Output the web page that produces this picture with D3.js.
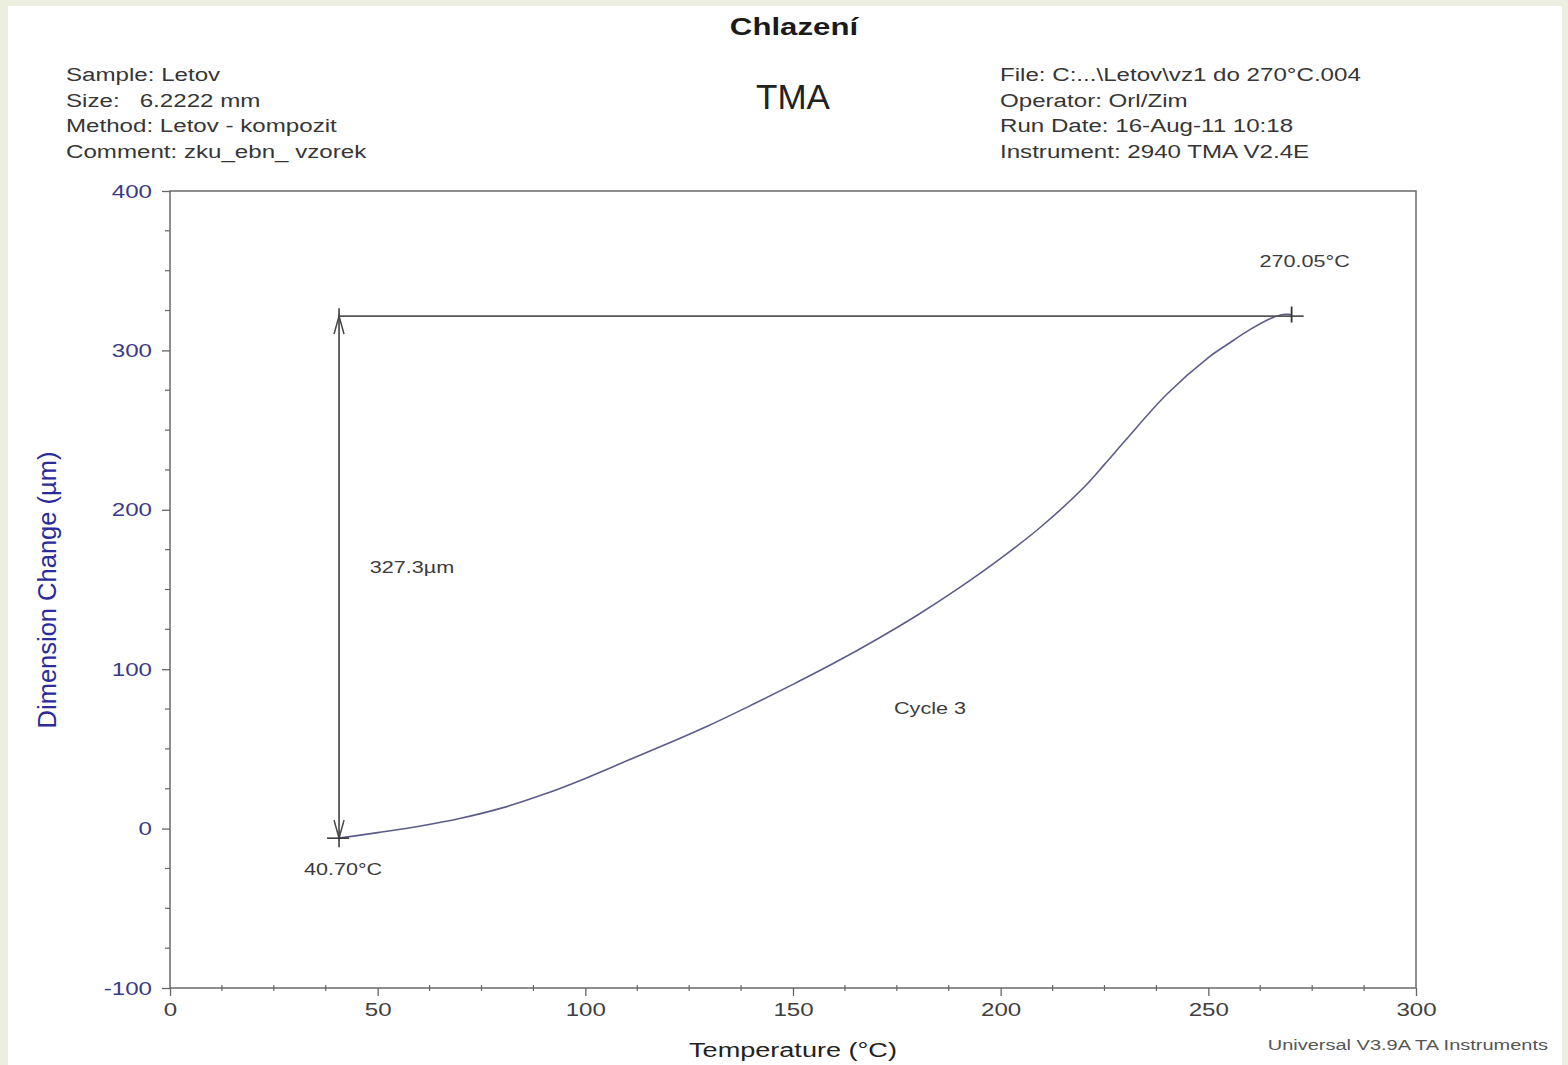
<!DOCTYPE html>
<html>
<head>
<meta charset="utf-8">
<script src="https://cdn.jsdelivr.net/npm/d3@7"></script>
<style>
  body { margin: 0; background: #eceedf; }
  #vis { width: 1568px; height: 1065px; }
  text { font-family: "Liberation Sans", Arial, sans-serif; }
</style>
</head>
<body>
<div id="vis"></div>
<script>
// data (Cycle 3)
let temps = [40.7, 50, 60, 70, 80, 90, 100, 110, 120, 130, 140, 150, 160, 170, 180, 190, 200, 210, 220, 225, 230, 240, 250, 255, 260, 265, 268, 270.05];
let dims = [-6, -2.5, 1.5, 6.5, 13, 21.5, 31.5, 42.5, 53.5, 65, 77.5, 90.5, 104, 118.5, 134, 151, 169.5, 190, 214, 228.5, 243.5, 272.5, 295.5, 304.5, 313, 320, 322.5, 322.5];
let xTicks = [0, 50, 100, 150, 200, 250, 300];
let yTicks = [-100, 0, 100, 200, 300, 400];
let infoLeft = ['Sample: Letov', 'Size:   6.2222 mm', 'Method: Letov - kompozit', 'Comment: zku_ebn_ vzorek'];
let infoRight = ['File: C:...\\Letov\\vz1 do 270°C.004', 'Operator: Orl/Zim', 'Run Date: 16-Aug-11 10:18', 'Instrument: 2940 TMA V2.4E'];
let startT = 40.70, endT = 270.05, topDim = 321.5, deltaLabel = '327.3µm';

let W = 1568, H = 1065;
let plot = { left: 170, top: 191, right: 1416, bottom: 988 };
let sx = 1.27; // the original text is rendered wide

let svg = d3.select('#vis')
  .append('svg')
  .attr('width', W)
  .attr('height', H)

svg.append('rect').attr('x', 0).attr('y', 0).attr('width', W).attr('height', H).attr('fill', '#eceedf')
svg.append('rect').attr('x', 8).attr('y', 6).attr('width', W - 14).attr('height', H).attr('fill', 'white')

let x = d3.scaleLinear().domain([0, 300]).range([plot.left, plot.right])
let y = d3.scaleLinear().domain([-100, 400]).range([plot.bottom, plot.top])

function label(px, py, txt, size, opts) {
  opts = opts || {}
  return svg.append('text')
    .attr('transform', `translate(${px},${py}) scale(${opts.sx || sx},1)`)
    .attr('text-anchor', opts.anchor || 'start')
    .style('font-size', size + 'px')
    .style('font-weight', opts.weight || 'normal')
    .style('white-space', 'pre')
    .attr('fill', opts.fill || '#3c3c3c')
    .text(txt)
}

// header text
label(794, 35, 'Chlazení', 24, { anchor: 'middle', weight: 'bold', fill: '#1a1a1a', sx: 1.3 })
label(793, 109, 'TMA', 35, { anchor: 'middle', fill: '#222', sx: 1 })
infoLeft.forEach((d, i) => label(66, 81 + i * 25.5, d, 19, { fill: '#363636' }))
infoRight.forEach((d, i) => label(1000, 81 + i * 25.5, d, 19, { fill: '#363636' }))

// frame
svg.append('rect').attr('x', plot.left).attr('y', plot.top)
  .attr('width', plot.right - plot.left).attr('height', plot.bottom - plot.top)
  .attr('fill', 'none').attr('stroke', '#6a6a6a').attr('stroke-width', 1.5)

// minor ticks
let xMinor = d3.range(0, 300.1, 12.5).filter(d => d % 50 != 0)
let yMinor = d3.range(-100, 400.1, 25).filter(d => d % 100 != 0)
svg.selectAll('.xminor').data(xMinor).enter().append('line')
  .attr('x1', d => x(d)).attr('x2', d => x(d))
  .attr('y1', plot.bottom - 3).attr('y2', plot.bottom + 3)
  .attr('stroke', '#666').attr('stroke-width', 1.2)
svg.selectAll('.yminor').data(yMinor).enter().append('line')
  .attr('x1', plot.left - 5).attr('x2', plot.left)
  .attr('y1', d => y(d)).attr('y2', d => y(d))
  .attr('stroke', '#666').attr('stroke-width', 1.2)

// axes
let xAxis = svg.append('g').attr('transform', `translate(0,${plot.bottom})`)
  .call(d3.axisBottom(x).tickValues(xTicks).tickSize(8).tickPadding(7).tickFormat(d => String(d)))
xAxis.select('.domain').remove()
xAxis.selectAll('line').attr('stroke', '#666').attr('stroke-width', 1.3)
xAxis.selectAll('text').style('font-size', '19px').attr('fill', '#404040')
  .attr('transform', `scale(${sx},1)`)

let yAxis = svg.append('g').attr('transform', `translate(${plot.left},0)`)
  .call(d3.axisLeft(y).tickValues(yTicks).tickSize(8).tickPadding(6).tickFormat(d => String(d)))
yAxis.select('.domain').remove()
yAxis.selectAll('line').attr('stroke', '#666').attr('stroke-width', 1.3)
yAxis.selectAll('text').style('font-size', '19px').attr('fill', '#3a3a8a')
  .attr('x', -18 / sx).attr('transform', `scale(${sx},1)`)

// axis titles
label(793, 1057, 'Temperature (°C)', 21, { anchor: 'middle', fill: '#222', sx: 1.29 })
svg.append('text').attr('transform', 'translate(56,590) rotate(-90)').attr('text-anchor', 'middle')
  .style('font-size', '25.5px').attr('fill', '#2b2b9a').text('Dimension Change (µm)')
label(1548, 1050, 'Universal V3.9A TA Instruments', 15.5, { anchor: 'end', fill: '#555', sx: 1.29 })

// curve
let pts = temps.map((t, i) => [t, dims[i]])
svg.append('path').datum(pts)
  .attr('d', d3.line().x(d => x(d[0])).y(d => y(d[1])).curve(d3.curveCatmullRom.alpha(0.5)))
  .attr('fill', 'none').attr('stroke', '#5c5c8c').attr('stroke-width', 1.6)

// step annotation
let ann = '#555'
let yTop = y(topDim), yBot = y(dims[0])
svg.append('line').attr('x1', x(startT)).attr('x2', x(endT) + 12)
  .attr('y1', yTop).attr('y2', yTop).attr('stroke', ann).attr('stroke-width', 1.8)
svg.append('line').attr('x1', x(startT)).attr('x2', x(startT))
  .attr('y1', yTop - 8).attr('y2', yBot + 9).attr('stroke', ann).attr('stroke-width', 1.8)
// arrow heads
svg.append('path').attr('d', d3.line()([[x(startT) - 5, yTop + 18], [x(startT), yTop], [x(startT) + 5, yTop + 18]]))
  .attr('fill', 'none').attr('stroke', '#444').attr('stroke-width', 1.5)
svg.append('path').attr('d', d3.line()([[x(startT) - 5, yBot - 18], [x(startT), yBot], [x(startT) + 5, yBot - 18]]))
  .attr('fill', 'none').attr('stroke', '#444').attr('stroke-width', 1.5)
// cross markers
svg.append('line').attr('x1', x(startT) - 12).attr('x2', x(startT) + 10)
  .attr('y1', yBot).attr('y2', yBot).attr('stroke', '#333').attr('stroke-width', 1.5)
svg.append('line').attr('x1', x(endT)).attr('x2', x(endT))
  .attr('y1', y(dims[dims.length - 1]) - 8).attr('y2', y(dims[dims.length - 1]) + 8)
  .attr('stroke', '#333').attr('stroke-width', 1.8)

label(x(endT) + 13, 267, endT.toFixed(2) + '°C', 17, { anchor: 'middle' })
label(x(startT) + 4, 875, startT.toFixed(2) + '°C', 17, { anchor: 'middle' })
label(412, 573, deltaLabel, 17, { anchor: 'middle' })
label(930, 714, 'Cycle 3', 17, { anchor: 'middle' })
</script>
</body>
</html>
